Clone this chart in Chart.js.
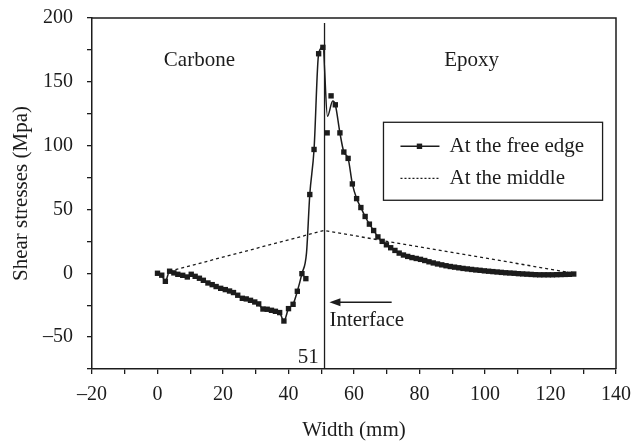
<!DOCTYPE html>
<html>
<head>
<meta charset="utf-8">
<script src="https://cdn.jsdelivr.net/npm/chart.js@4/dist/chart.umd.min.js"></script>
<style>
  html, body { margin: 0; padding: 0; background: #fff; }
</style>
</head>
<body>
<canvas id="chart" width="635" height="443"></canvas>
<script>
// values

// shear stress at the free edge (markers)
var edgeX = [0, 1.3, 2.4, 3.7, 5, 6.2, 7.7, 9.1, 10.3, 11.5, 12.8, 14, 15.4, 16.7, 17.9, 19.3,
  20.7, 22, 23.2, 24.5, 25.9, 27.1, 28.4, 29.7, 30.9, 32.2, 33.5, 34.8, 36, 37.3, 38.6, 40,
  41.4, 42.7, 44.1, 45.3, 46.5, 47.8, 49.2, 50.5, 51.8, 53, 54.3, 55.7, 56.9, 58.2, 59.5,
  60.8, 62.1, 63.4, 64.7, 66, 67.3, 68.6, 69.9, 71.2, 72.5, 73.8, 75.1, 76.4, 77.7, 79,
  80.3, 81.6, 82.9, 84.2, 85.5, 86.8, 88.1, 89.4, 90.7, 92, 93.3, 94.6, 95.9, 97.2, 98.5,
  99.8, 101.1, 102.4, 103.7, 105, 106.3, 107.6, 108.9, 110.2, 111.5, 112.8, 114.1, 115.4,
  116.7, 118, 119.3, 120.6, 121.9, 123.2, 124.5, 125.8, 127.1];
var edgeY = [0, -1.5, -6.3, 1.6, 0.3, -0.8, -1.6, -2.9, -0.8, -2.4, -3.9, -5.5, -7.6, -8.9, -10.4, -11.8,
  -12.8, -13.9, -15.1, -17.2, -19.6, -20.1, -21.2, -22.5, -24, -28, -28.2, -29, -29.8, -30.8, -37.4, -27.7,
  -24.3, -14.1, -0.3, -4.2, 61.7, 97, 172, 177, 110, 139, 132, 110, 95, 90, 70,
  58.5, 51.5, 44.5, 38.5, 33.5, 28.5, 25, 22.3, 20, 17.9, 15.8, 14.3, 13.2, 12.3, 11.6,
  10.9, 10, 9, 8.1, 7.3, 6.6, 5.9, 5.3, 4.8, 4.3, 3.8, 3.4, 3, 2.6, 2.3,
  1.9, 1.6, 1.3, 1, 0.7, 0.4, 0.2, 0, -0.3, -0.5, -0.7, -0.9, -1.1,
  -1.2, -1.2, -1.2, -1.2, -1.1, -1, -0.9, -0.8, -0.6];

// the fitted line misses a few markers near the peak
var offCurveX = [45.3, 51.8, 53];
var curveExtraX = [45.5, 51.9, 53.5];
var curveExtraY = [16, 123, 135];

// stress at the middle (dotted)
var middleX = [3.7, 50.8, 125];
var middleY = [1.6, 33.5, 1];

var interfaceX = 51;
var xTicks = { min: -20, max: 140, step: 10 };
var yTicks = { min: -75, max: 200, step: 25 };

var ink = '#1c1c1c';
var serif = "'Liberation Serif', 'DejaVu Serif', serif";

function pts(xs, ys) {
  var out = [];
  for (var i = 0; i < xs.length; i++) out.push({ x: xs[i], y: ys[i] });
  return out;
}

var markerPts = pts(edgeX, edgeY);
var curvePts = markerPts.filter(function (p) { return offCurveX.indexOf(p.x) < 0; })
  .concat(pts(curveExtraX, curveExtraY))
  .sort(function (a, b) { return a.x - b.x; });

function fmt(v) { return v < 0 ? '\u2013' + Math.abs(v) : String(v); }

// frame, texts, arrow and the legend box
var extras = {
  id: 'extras',
  afterDraw: function (chart) {
    var ctx = chart.ctx, a = chart.chartArea;
    var sx = chart.scales.x, sy = chart.scales.y;
    function X(v) { return sx.getPixelForValue(v); }
    function Y(v) { return sy.getPixelForValue(v); }
    ctx.save();
    ctx.strokeStyle = ink;
    ctx.lineWidth = 1.5;
    ctx.beginPath();
    ctx.moveTo(a.left, a.top);
    ctx.lineTo(a.right, a.top);
    ctx.lineTo(a.right, a.bottom);
    ctx.stroke();

    ctx.fillStyle = ink;
    ctx.font = '21px ' + serif;
    ctx.textBaseline = 'middle';
    ctx.textAlign = 'center';
    ctx.fillText('Carbone', X(12.8), Y(167));
    ctx.fillText('Epoxy', X(95.9), Y(167));

    ctx.textAlign = 'left';
    ctx.fillText('Interface', X(52.5), Y(-36.8));
    ctx.textAlign = 'right';
    ctx.fillText('51', X(49.2), Y(-65.8));

    // arrow pointing at the interface
    var ay = Y(-22.7), ax0 = X(71.5), ax1 = X(52.5);
    ctx.lineWidth = 1.3;
    ctx.beginPath();
    ctx.moveTo(ax0, ay);
    ctx.lineTo(ax1 + 6, ay);
    ctx.stroke();
    ctx.beginPath();
    ctx.moveTo(ax1, ay);
    ctx.lineTo(ax1 + 11, ay - 4);
    ctx.lineTo(ax1 + 11, ay + 4);
    ctx.closePath();
    ctx.fill();

    // legend
    var lx0 = X(69), lx1 = X(135.9), ly0 = Y(118.3), ly1 = Y(57.2);
    ctx.lineWidth = 1.3;
    ctx.strokeRect(lx0, ly0, lx1 - lx0, ly1 - ly0);
    var r1 = ly0 + 24, r2 = ly0 + 56;
    ctx.lineWidth = 1.5;
    ctx.beginPath();
    ctx.moveTo(lx0 + 17, r1);
    ctx.lineTo(lx0 + 56, r1);
    ctx.stroke();
    ctx.fillRect(lx0 + 36 - 2.7, r1 - 2.7, 5.4, 5.4);
    ctx.setLineDash([2, 2]);
    ctx.lineWidth = 1.2;
    ctx.beginPath();
    ctx.moveTo(lx0 + 17, r2);
    ctx.lineTo(lx0 + 56, r2);
    ctx.stroke();
    ctx.setLineDash([]);
    ctx.textAlign = 'left';
    ctx.font = '21px ' + serif;
    ctx.fillText('At the free edge', lx0 + 66, r1);
    ctx.fillText('At the middle', lx0 + 66, r2);
    ctx.restore();
  }
};

new Chart(document.getElementById('chart'), {
  type: 'scatter',
  data: {
    datasets: [
      {
        label: 'At the free edge',
        data: curvePts,
        showLine: true,
        borderColor: ink,
        borderWidth: 1.5,
        pointRadius: 0,
        cubicInterpolationMode: 'monotone'
      },
      {
        label: 'markers',
        data: markerPts,
        showLine: false,
        pointStyle: 'rect',
        pointRadius: 3.8,
        pointBorderWidth: 0,
        backgroundColor: ink,
        borderColor: ink
      },
      {
        label: 'At the middle',
        data: pts(middleX, middleY),
        showLine: true,
        borderColor: ink,
        borderWidth: 1.3,
        borderDash: [3, 3],
        pointRadius: 0,
        tension: 0
      },
      {
        label: 'interface',
        data: [{ x: interfaceX, y: yTicks.min }, { x: interfaceX, y: 196 }],
        showLine: true,
        borderColor: ink,
        borderWidth: 1.3,
        pointRadius: 0
      }
    ]
  },
  options: {
    responsive: false,
    animation: false,
    devicePixelRatio: 1,
    layout: { padding: { top: 18, right: 19, left: 0, bottom: 0 } },
    plugins: { legend: { display: false }, tooltip: { enabled: false } },
    scales: {
      x: {
        type: 'linear',
        min: xTicks.min,
        max: xTicks.max,
        ticks: {
          stepSize: xTicks.step,
          autoSkip: false,
          maxRotation: 0,
          padding: 9,
          color: ink,
          font: { family: serif, size: 20 },
          callback: function (v) { return v % 20 === 0 ? fmt(v) : ''; }
        },
        grid: { drawOnChartArea: false, tickLength: 5, color: ink, lineWidth: 1.3 },
        border: { color: ink, width: 1.5 },
        title: {
          display: true,
          text: 'Width (mm)',
          color: ink,
          font: { family: serif, size: 21 },
          padding: { top: 0, bottom: 0 }
        },
        afterFit: function (s) { s.height = 74; s.paddingLeft = 0; s.paddingRight = 0; }
      },
      y: {
        min: yTicks.min,
        max: yTicks.max,
        ticks: {
          stepSize: yTicks.step,
          autoSkip: false,
          padding: 14,
          color: ink,
          font: { family: serif, size: 20 },
          callback: function (v) { return v % 50 === 0 ? fmt(v) : ''; }
        },
        grid: { drawOnChartArea: false, tickLength: 5, color: ink, lineWidth: 1.3 },
        border: { color: ink, width: 1.5 },
        title: {
          display: true,
          text: 'Shear stresses (Mpa)',
          color: ink,
          font: { family: serif, size: 21 },
          padding: { top: 9, bottom: 0 }
        },
        afterFit: function (s) { s.width = 92; s.paddingTop = 0; s.paddingBottom = 0; }
      }
    }
  },
  plugins: [extras]
});
</script>
</body>
</html>
